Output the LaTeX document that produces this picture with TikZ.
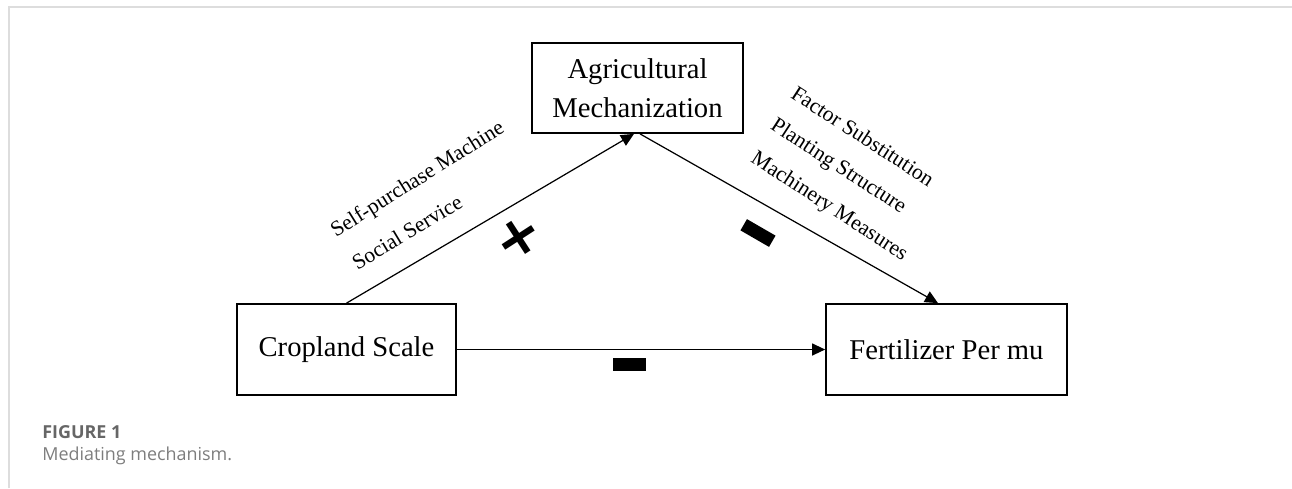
\documentclass[tikz,border=0pt]{standalone}
\usepackage{fontspec}
\setmainfont{Liberation Serif}
\newfontfamily\capfont{Open Sans}
\newfontfamily\signfont{DejaVu Sans}
\usetikzlibrary{arrows.meta}
\definecolor{framegray}{HTML}{DDDDDD}
\definecolor{capgray}{HTML}{666666}

\begin{document}
\begin{tikzpicture}[x=0.02cm,y=-0.02cm,>={Triangle[length=0.26cm,width=0.24cm]},
    box/.style={draw,line width=1pt,inner sep=0pt,align=center,font=\fontsize{16.3}{22}\selectfont},
    way/.style={font=\fontsize{12.3}{14}\selectfont,inner sep=0pt},
    link/.style={->,line width=0.7pt},
    minusbar/.style={fill=black,minimum width=0.66cm,minimum height=0.26cm,inner sep=0pt}]
    \useasboundingbox (0,0) rectangle (1292,488);
    % frame of the figure
    \draw[framegray,line width=1pt] (9,488) -- (9,7) -- (1292,7);

    \node[box,minimum width=4.22cm,minimum height=1.8cm]  (agri) at (637.5,88)  {Agricultural\\Mechanization};
    \node[box,minimum width=4.38cm,minimum height=1.82cm] (crop) at (346.5,349.5) {Cropland Scale};
    \node[box,minimum width=4.82cm,minimum height=1.82cm] (fert) at (946.5,349.5) {Fertilizer Per mu};

    \draw[link] (crop.north) -- ([xshift=-0.07cm]agri.south);
    \draw[link] ([xshift=0.05cm]agri.south) -- ([xshift=-0.17cm]fert.north);
    \draw[link] (crop) -- (fert);

    % channels
    \node[way,rotate=32]  (selfbuy)  at (418,180) {Self-purchase Machine};
    \node[way,rotate=31]  (socserv)  at (407,232) {Social Service};
    \node[way,rotate=-33] (factor)   at (863,136) {Factor Substitution};
    \node[way,rotate=-33] (planting) at (838,167) {Planting Structure};
    \node[way,rotate=-33] (machmeas) at (829,207) {Machinery Measures};

    % signs
    \node[font=\signfont\bfseries\fontsize{32}{32}\selectfont,rotate=33,inner sep=0pt] (plus) at (519,238) {+};
    \node[minusbar,rotate=-30] (minusmed) at (758,233) {};
    \node[minusbar]            (minusdir) at (629,364) {};

    % caption
    \node[anchor=base west,inner sep=0pt,text=capgray,font=\capfont\bfseries\fontsize{10.2}{12}\selectfont] (figno) at (42,438) {FIGURE 1};
    \node[anchor=base west,inner sep=0pt,text=capgray!85,font=\capfont\fontsize{10.2}{12}\selectfont] (figcap) at (42,460) {Mediating mechanism.};
\end{tikzpicture}
\end{document}
